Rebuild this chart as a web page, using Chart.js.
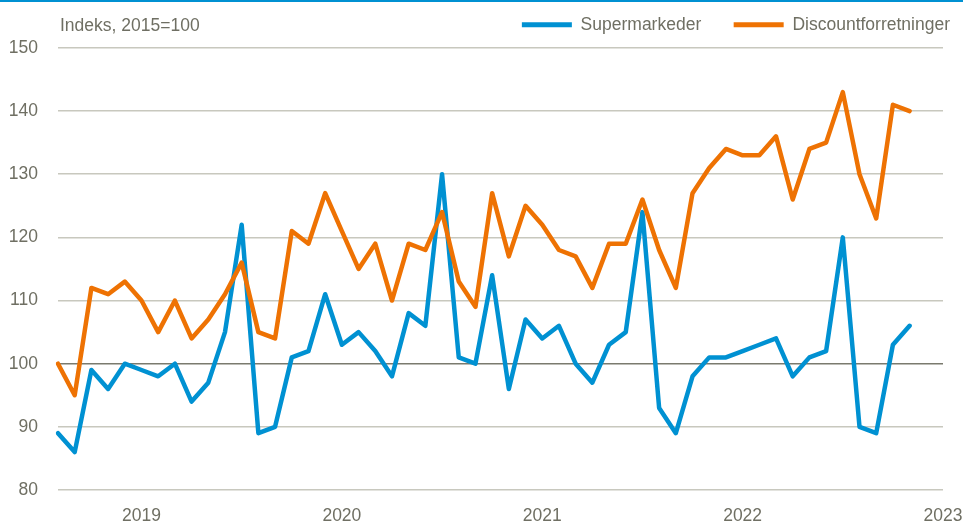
<!DOCTYPE html>
<html>
<head>
<meta charset="utf-8">
<script src="https://cdn.jsdelivr.net/npm/chart.js@4"></script>
<style>
  html, body { margin: 0; padding: 0; background: #fff; }
  canvas { display: block; }
</style>
</head>
<body>
<canvas id="chart" width="963" height="524"></canvas>
<script>
const months = [
    "2018-08", "2018-09", "2018-10", "2018-11", "2018-12",
    "2019-01", "2019-02", "2019-03", "2019-04", "2019-05", "2019-06",
    "2019-07", "2019-08", "2019-09", "2019-10", "2019-11", "2019-12",
    "2020-01", "2020-02", "2020-03", "2020-04", "2020-05", "2020-06",
    "2020-07", "2020-08", "2020-09", "2020-10", "2020-11", "2020-12",
    "2021-01", "2021-02", "2021-03", "2021-04", "2021-05", "2021-06",
    "2021-07", "2021-08", "2021-09", "2021-10", "2021-11", "2021-12",
    "2022-01", "2022-02", "2022-03", "2022-04", "2022-05", "2022-06",
    "2022-07", "2022-08", "2022-09", "2022-10", "2022-11", "2022-12",
    "2023-01",
];

const supermarkeder = [
    89, 86, 99, 96, 100, 99, 98, 100, 94, 97,
    105, 122, 89, 90, 101, 102, 111, 103, 105, 102,
    98, 108, 106, 130, 101, 100, 114, 96, 107, 104,
    106, 100, 97, 103, 105, 124, 93, 89, 98, 101,
    101, 102, 103, 104, 98, 101, 102, 120, 90, 89,
    103, 106,
];

const discountforretninger = [
    100, 95, 112, 111, 113, 110, 105, 110, 104, 107,
    111, 116, 105, 104, 121, 119, 127, 121, 115, 119,
    110, 119, 118, 124, 113, 109, 127, 117, 125, 122,
    118, 117, 112, 119, 119, 126, 118, 112, 127, 131,
    134, 133, 133, 136, 126, 134, 135, 143, 130, 123,
    141, 140,
];

const yTicks = [80, 90, 100, 110, 120, 130, 140, 150];
const yTitle = "Indeks, 2015=100";

const blaa = "#0091d2";
const orange = "#ee7203";
const tekst = "#6f6f63";
const font = { family: "'Liberation Sans', Arial, sans-serif", size: 17.5 };

// tittel oppe til venstre + blå strek i toppen
const pynt = {
    id: "pynt",
    afterDraw(c) {
        const ctx = c.ctx;
        ctx.save();
        ctx.fillStyle = blaa;
        ctx.fillRect(0, 0, c.width, 2);
        ctx.fillStyle = tekst;
        ctx.font = font.size + "px " + font.family;
        ctx.textBaseline = "alphabetic";
        ctx.textAlign = "left";
        ctx.fillText(yTitle, 60, 31);
        ctx.restore();
    },
};

new Chart(document.getElementById("chart"), {
    type: "line",
    data: {
        labels: months,
        datasets: [
            {
                label: "Supermarkeder",
                data: supermarkeder,
                borderColor: blaa,
                backgroundColor: blaa,
                order: 1,
            },
            {
                label: "Discountforretninger",
                data: discountforretninger,
                borderColor: orange,
                backgroundColor: orange,
                order: 0,
            },
        ],
    },
    options: {
        responsive: false,
        animation: false,
        layout: { padding: { top: 3, left: 0, right: 0, bottom: 0 } },
        elements: {
            point: { radius: 0 },
            line: { borderWidth: 4.5, borderJoinStyle: "round", borderCapStyle: "round" },
        },
        plugins: {
            tooltip: { enabled: false },
            legend: {
                position: "top",
                align: "end",
                labels: {
                    boxWidth: 50,
                    boxHeight: 5,
                    padding: 13,
                    color: tekst,
                    font: font,
                    // tynn strek + litt ekstra luft mellom de to seriene
                    generateLabels: (c) =>
                        Chart.defaults.plugins.legend.labels.generateLabels(c).map((l) => ({
                            ...l,
                            lineWidth: 0,
                            text: l.datasetIndex === 0 ? l.text + "    " : l.text,
                        })),
                    sort: (a, b) => a.datasetIndex - b.datasetIndex,
                },
            },
        },
        scales: {
            x: {
                type: "category",
                offset: false,
                grid: { display: false, drawTicks: false },
                border: { display: false },
                afterFit: (s) => {
                    s.height = 34;
                    s.paddingLeft = 0;
                    s.paddingRight = 20;
                },
                ticks: {
                    autoSkip: false,
                    maxRotation: 0,
                    padding: 16,
                    color: tekst,
                    font: font,
                    callback: (v, i) => months[i].endsWith("-01") ? months[i].slice(0, 4) : null,
                },
            },
            y: {
                min: yTicks[0],
                max: 150.7,
                border: { display: false },
                afterFit: (s) => { s.width = 58; },
                afterBuildTicks: (s) => { s.ticks = yTicks.map((v) => ({ value: v })); },
                grid: {
                    drawTicks: false,
                    lineWidth: 1.5,
                    color: (ctx) => ctx.tick && ctx.tick.value === 100 ? "#7a7a6e" : "#c8c8be",
                },
                ticks: {
                    padding: 20,
                    color: tekst,
                    font: font,
                },
            },
        },
    },
    plugins: [pynt],
});
</script>
</body>
</html>
